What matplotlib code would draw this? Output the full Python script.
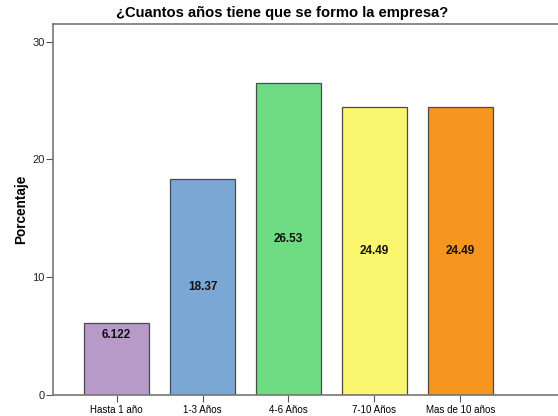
import matplotlib
matplotlib.use('Agg')
import matplotlib.pyplot as plt

categories = ['Hasta 1 año', '1-3 Años', '4-6 Años', '7-10 Años', 'Mas de 10 años']
percentages = [6.122, 18.37, 26.53, 24.49, 24.49]
bar_labels = ['6.122', '18.37', '26.53', '24.49', '24.49']
colors = ['#B89AC8', '#7BA7D5', '#6FDC84', '#FAF76E', '#F7961E']

plt.rcParams['font.family'] = ['Liberation Sans', 'DejaVu Sans']

fig = plt.figure(figsize=(5.58, 4.16), dpi=100)
ax = fig.add_axes([53/558, 21/416, 507/558, 371/416])

x = range(len(categories))
ax.bar(x, percentages, width=0.75, color=colors, edgecolor='#4a4a4a', linewidth=0.9)

for i, v in enumerate(percentages):
    ax.text(i, max(v / 2, 5.1), bar_labels[i], ha='center', va='center',
            fontsize=8.5, fontweight='bold', color='#111111')

ax.set_xlim(-0.74, 5.16)
ax.set_ylim(0, 31.5)
ax.set_yticks([0, 10, 20, 30])
ax.set_xticks(list(x))
ax.set_xticklabels(categories, fontsize=7)
ax.tick_params(axis='y', labelsize=8, length=5, color='#555555', pad=1, labelcolor='#222222')
ax.tick_params(axis='x', length=5, color='#555555', pad=2)

for s in ax.spines.values():
    s.set_color('#777777')
    s.set_linewidth(1.2)
ax.spines['right'].set_visible(False)

ax.set_ylabel('Porcentaje', fontsize=9.8, fontweight='bold', labelpad=3)
fig.suptitle('¿Cuantos años tiene que se formo la empresa?', fontsize=10.6,
             fontweight='bold', x=0.505, y=0.985)

fig.savefig('out.png', dpi=100)
